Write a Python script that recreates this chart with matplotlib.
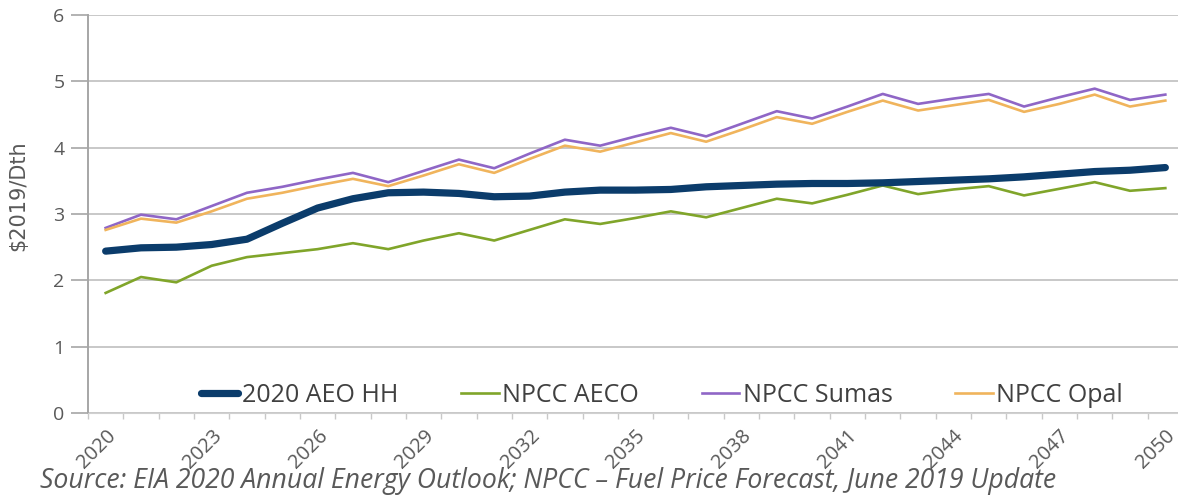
import matplotlib.pyplot as plt
import numpy as np

years = list(range(2020, 2051))
aeo_hh = [2.44, 2.49, 2.50, 2.54, 2.62, 2.86, 3.09, 3.23, 3.32, 3.33, 3.31, 3.26, 3.27, 3.33, 3.36, 3.36,
          3.37, 3.41, 3.43, 3.45, 3.46, 3.46, 3.47, 3.49, 3.51, 3.53, 3.56, 3.60, 3.64, 3.66, 3.70]
npcc_aeco = [1.81, 2.05, 1.97, 2.22, 2.35, 2.41, 2.47, 2.56, 2.47, 2.60, 2.71, 2.60, 2.76, 2.92, 2.85, 2.94,
             3.04, 2.95, 3.09, 3.23, 3.16, 3.29, 3.43, 3.30, 3.37, 3.42, 3.28, 3.38, 3.48, 3.35, 3.39]
npcc_sumas = [2.79, 2.99, 2.92, 3.12, 3.32, 3.41, 3.52, 3.62, 3.48, 3.65, 3.82, 3.69, 3.91, 4.12, 4.03, 4.17,
              4.30, 4.17, 4.36, 4.55, 4.44, 4.62, 4.81, 4.66, 4.74, 4.81, 4.62, 4.76, 4.89, 4.72, 4.80]
npcc_opal = [2.76, 2.93, 2.87, 3.04, 3.23, 3.32, 3.43, 3.53, 3.42, 3.58, 3.75, 3.62, 3.83, 4.03, 3.94, 4.08,
             4.22, 4.09, 4.27, 4.46, 4.36, 4.54, 4.71, 4.56, 4.64, 4.72, 4.54, 4.66, 4.80, 4.62, 4.71]
label_years = years[::3]

plt.rcParams['font.family'] = ['Open Sans', 'DejaVu Sans']
txt = '#595959'

fig = plt.figure(figsize=(11.78, 4.96), dpi=100)
ax = fig.add_axes([88 / 1178, 1 - 413 / 496, 1095 / 1178, 398 / 496])

x = np.arange(len(years))
ax.plot(x, aeo_hh, color='#0B3C6B', lw=5.2, solid_capstyle='round', label='2020 AEO HH', zorder=4)
ax.plot(x, npcc_aeco, color='#80A52A', lw=1.9, label='NPCC AECO', zorder=3)
ax.plot(x, npcc_sumas, color='#8F66C6', lw=1.9, label='NPCC Sumas', zorder=3)
ax.plot(x, npcc_opal, color='#F0B45C', lw=1.9, label='NPCC Opal', zorder=3)

ax.set_xlim(-0.5, len(years) - 0.5)
ax.set_ylim(0, 6)
ax.set_yticks(range(0, 7))
ax.grid(axis='y', color='#BFBFBF', lw=1.2)
ax.set_axisbelow(True)

# ticks at category boundaries, labels every 3 years
ax.set_xticks(np.arange(-0.5, len(years), 1))
ax.set_xticklabels([])
ax.set_xticks([years.index(y) for y in label_years], minor=True)
ax.set_xticklabels([str(y) for y in label_years], minor=True, rotation=45, ha='right',
                   rotation_mode='anchor', fontsize=14.5, color=txt)
ax.tick_params(axis='x', which='major', length=4, color='#C8C8C8', width=1)
ax.tick_params(axis='x', which='minor', length=0, pad=9)
ax.tick_params(axis='y', length=12, color='#A6A6A6', width=1.2, labelsize=14, labelcolor=txt, pad=5)

for s in ['top', 'right']:
    ax.spines[s].set_visible(False)
ax.spines['left'].set_color('#A6A6A6')
ax.spines['left'].set_linewidth(1.4)
ax.spines['bottom'].set_color('#D0D0D0')
ax.spines['bottom'].set_linewidth(0.8)

ax.set_ylabel('$2019/Dth', fontsize=15, color=txt,
              family=['Liberation Sans Narrow', 'DejaVu Sans'])
ax.yaxis.set_label_coords(-0.055, 0.545)

ax.legend(loc='center', bbox_to_anchor=((662 - 88) / 1095, 0.045), ncol=4, frameon=False,
          fontsize=18, labelcolor='#404040', handlelength=1.5, handletextpad=0.15, columnspacing=2.5)

fig.text(40 / 1178, 1 - 481 / 496, 'Source: EIA 2020 Annual Energy Outlook; NPCC \u2013 Fuel Price Forecast, June 2019 Update',
         fontsize=19.2, style='italic', color=txt, va='center', ha='left')

fig.savefig('out.png', dpi=100)
